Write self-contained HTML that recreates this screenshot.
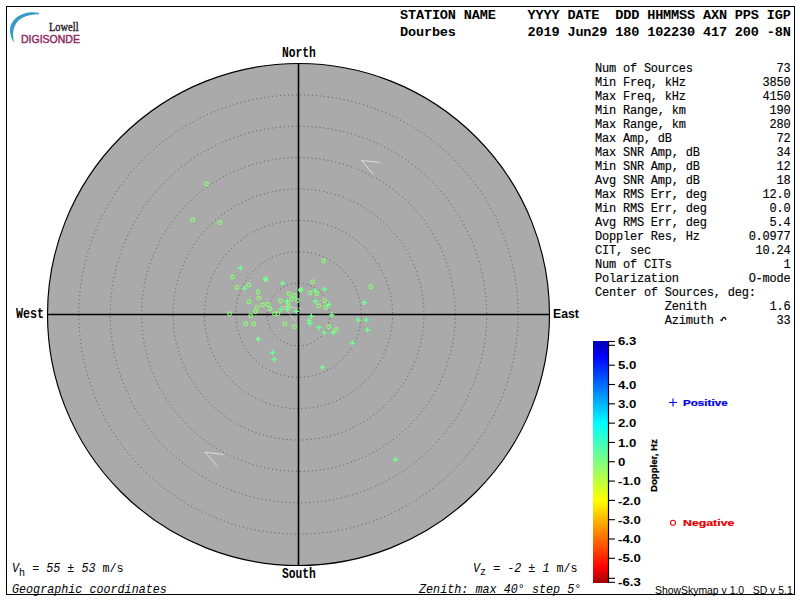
<!DOCTYPE html>
<html><head><meta charset="utf-8">
<style>
html,body{margin:0;padding:0;background:#fff;width:800px;height:600px;overflow:hidden}
#frame{position:absolute;left:6px;top:6px;width:787px;height:587px;border:1px solid #000}
.t{position:absolute;white-space:pre;font-family:"Liberation Mono",monospace;color:#000;transform-origin:0 0;line-height:1}
.sub{font-size:10px;position:relative;top:3px}
i{font-style:italic}
svg{position:absolute;left:0;top:0}
</style></head><body>
<div id="frame"></div>
<svg width="800" height="600" viewBox="0 0 800 600">
<defs>
<linearGradient id="cbg" x1="0" y1="0" x2="0" y2="1">
<stop offset="0" stop-color="#0000b0"/>
<stop offset="0.0635" stop-color="#0000ff"/>
<stop offset="0.341" stop-color="#00ffff"/>
<stop offset="0.5" stop-color="#80ff80"/>
<stop offset="0.659" stop-color="#ffff00"/>
<stop offset="0.937" stop-color="#ff0000"/>
<stop offset="1" stop-color="#a00000"/>
</linearGradient>
</defs>
<path d="M39 12.9 C24 10 8.5 18 10.2 33 C10.7 37 12.2 40 14.2 42.8 C13 38 12.8 34 13.6 29.5 C16 19 25.5 14.3 39 14.2Z" fill="#3a9ac8"/>
<circle cx="298.5" cy="314.5" r="251" fill="#aaaaaa" stroke="#000" stroke-width="1.15"/>
<circle cx="298.5" cy="314.5" r="31.38" fill="none" stroke="#555555" stroke-width="1" stroke-dasharray="1 3"/>
<circle cx="298.5" cy="314.5" r="62.75" fill="none" stroke="#555555" stroke-width="1" stroke-dasharray="1 3"/>
<circle cx="298.5" cy="314.5" r="94.12" fill="none" stroke="#555555" stroke-width="1" stroke-dasharray="1 3"/>
<circle cx="298.5" cy="314.5" r="125.50" fill="none" stroke="#555555" stroke-width="1" stroke-dasharray="1 3"/>
<circle cx="298.5" cy="314.5" r="156.88" fill="none" stroke="#555555" stroke-width="1" stroke-dasharray="1 3"/>
<circle cx="298.5" cy="314.5" r="188.25" fill="none" stroke="#555555" stroke-width="1" stroke-dasharray="1 3"/>
<circle cx="298.5" cy="314.5" r="219.62" fill="none" stroke="#555555" stroke-width="1" stroke-dasharray="1 3"/>
<line x1="47.5" y1="314.5" x2="549.5" y2="314.5" stroke="#000" stroke-width="1.6"/>
<line x1="298.5" y1="63.5" x2="298.5" y2="565.5" stroke="#000" stroke-width="1.6"/>
<polyline points="379.75,162.5 361.5,160.5 373.5,174.5" fill="none" stroke="#e8e8e8" stroke-width="1" opacity="0.8"/>
<polyline points="223.75,454.5 205.25,452.25 217.5,466.5" fill="none" stroke="#e8e8e8" stroke-width="1" opacity="0.8"/>
<polyline points="302,308.5 283.25,306.25 295.5,320.75" fill="none" stroke="#e8e8e8" stroke-width="1" opacity="0.55"/>
<g fill="none" stroke="#88ff70" stroke-width="1.15"><circle cx="232.5" cy="277" r="1.85"/><circle cx="248.75" cy="285" r="1.85"/><circle cx="323.75" cy="260.75" r="1.85"/><circle cx="312.5" cy="281.75" r="1.85"/><circle cx="310" cy="293" r="1.85"/><circle cx="317" cy="293.75" r="1.85"/><circle cx="370.75" cy="286.75" r="1.85"/><circle cx="258" cy="292" r="1.85"/><circle cx="258.75" cy="298" r="1.85"/><circle cx="248.75" cy="301.75" r="1.85"/><circle cx="288.75" cy="293.75" r="1.85"/><circle cx="294.5" cy="295.5" r="1.85"/><circle cx="291.75" cy="298.75" r="1.85"/><circle cx="297.5" cy="300.5" r="1.85"/><circle cx="280.5" cy="300.75" r="1.85"/><circle cx="325" cy="300.75" r="1.85"/><circle cx="318.75" cy="305.75" r="1.85"/><circle cx="325.75" cy="307.5" r="1.85"/><circle cx="262.5" cy="305" r="1.85"/><circle cx="267.5" cy="304.25" r="1.85"/><circle cx="256.75" cy="307.5" r="1.85"/><circle cx="255.5" cy="311.75" r="1.85"/><circle cx="270" cy="308.75" r="1.85"/><circle cx="229.5" cy="313.75" r="1.85"/><circle cx="250.75" cy="315.75" r="1.85"/><circle cx="274.5" cy="313.75" r="1.85"/><circle cx="278" cy="313.75" r="1.85"/><circle cx="285" cy="323.75" r="1.85"/><circle cx="294.5" cy="326.75" r="1.85"/><circle cx="245.75" cy="323.75" r="1.85"/><circle cx="253.75" cy="323.75" r="1.85"/><circle cx="328.75" cy="326.75" r="1.85"/><circle cx="336.25" cy="329.5" r="1.85"/><circle cx="206.6" cy="184" r="1.85"/><circle cx="192.7" cy="219.7" r="1.85"/><circle cx="219.7" cy="222.7" r="1.85"/><circle cx="237" cy="287.5" r="1.85"/><circle cx="288" cy="303.3" r="1.85"/><circle cx="288.5" cy="307.3" r="1.85"/><circle cx="265.5" cy="279.25" r="1.85"/><circle cx="300.75" cy="290" r="1.85"/></g>
<path fill="none" stroke="#70ff90" stroke-width="1.4" d="M237.80 268.25h5.4M240.50 265.55v5.4M241.80 288.25h5.4M244.50 285.55v5.4M279.80 283.25h5.4M282.50 280.55v5.4M321.80 289.25h5.4M324.50 286.55v5.4M312.80 290.75h5.4M315.50 288.05v5.4M312.80 301.25h5.4M315.50 298.55v5.4M326.05 304.50h5.4M328.75 301.80v5.4M361.55 302.50h5.4M364.25 299.80v5.4M278.55 309.25h5.4M281.25 306.55v5.4M293.55 311.25h5.4M296.25 308.55v5.4M308.55 316.25h5.4M311.25 313.55v5.4M329.05 315.00h5.4M331.75 312.30v5.4M316.05 327.50h5.4M318.75 324.80v5.4M321.55 332.50h5.4M324.25 329.80v5.4M330.55 332.50h5.4M333.25 329.80v5.4M355.55 320.00h5.4M358.25 317.30v5.4M363.55 320.00h5.4M366.25 317.30v5.4M364.80 330.00h5.4M367.50 327.30v5.4M349.80 343.00h5.4M352.50 340.30v5.4M255.55 339.25h5.4M258.25 336.55v5.4M269.80 352.50h5.4M272.50 349.80v5.4M271.55 359.50h5.4M274.25 356.80v5.4M319.80 367.50h5.4M322.50 364.80v5.4M392.80 459.50h5.4M395.50 456.80v5.4M284.80 301.30h5.4M287.50 298.60v5.4M284.80 309.50h5.4M287.50 306.80v5.4M306.30 320.50h5.4M309.00 317.80v5.4M307.30 323.50h5.4M310.00 320.80v5.4M262.80 279.25h5.4M265.50 276.55v5.4M298.05 290.00h5.4M300.75 287.30v5.4"/>
<rect x="593" y="341" width="15" height="242" fill="url(#cbg)"/>
<line x1="608.5" y1="341" x2="608.5" y2="583" stroke="#000" stroke-width="1.2"/>
<line x1="608" y1="341.50" x2="615" y2="341.50" stroke="#000" stroke-width="1.1"/>
<line x1="608" y1="345.30" x2="615" y2="345.30" stroke="#000" stroke-width="1.1"/>
<line x1="608" y1="365.20" x2="615" y2="365.20" stroke="#000" stroke-width="1.1"/>
<line x1="608" y1="384.51" x2="615" y2="384.51" stroke="#000" stroke-width="1.1"/>
<line x1="608" y1="403.82" x2="615" y2="403.82" stroke="#000" stroke-width="1.1"/>
<line x1="608" y1="423.13" x2="615" y2="423.13" stroke="#000" stroke-width="1.1"/>
<line x1="608" y1="442.44" x2="615" y2="442.44" stroke="#000" stroke-width="1.1"/>
<line x1="608" y1="461.75" x2="615" y2="461.75" stroke="#000" stroke-width="1.1"/>
<line x1="608" y1="481.06" x2="615" y2="481.06" stroke="#000" stroke-width="1.1"/>
<line x1="608" y1="500.37" x2="615" y2="500.37" stroke="#000" stroke-width="1.1"/>
<line x1="608" y1="519.68" x2="615" y2="519.68" stroke="#000" stroke-width="1.1"/>
<line x1="608" y1="538.99" x2="615" y2="538.99" stroke="#000" stroke-width="1.1"/>
<line x1="608" y1="558.30" x2="615" y2="558.30" stroke="#000" stroke-width="1.1"/>
<line x1="608" y1="578.30" x2="615" y2="578.30" stroke="#000" stroke-width="1.1"/>
<line x1="608" y1="582.30" x2="615" y2="582.30" stroke="#000" stroke-width="1.1"/>
<path d="M720.3 319.6L722.2 321.2M721.6 321Q722.6 317.4 724.4 317.4Q725.8 317.6 725.9 320" stroke="#000" stroke-width="1.1" fill="none"/>
<path d="M669 402.5h8M673 398.5v8" stroke="#0000e6" stroke-width="1.1" fill="none"/>
<circle cx="673" cy="522.8" r="2.5" stroke="#e60000" stroke-width="1.05" fill="none"/>
</svg>
<div id="hdr" class="t m" style="left:400.00px;top:7.00px;transform:scale(0.9969,1.0000);font-size:13.6px;letter-spacing:-0.16px;font-weight:bold;line-height:17px">STATION NAME    YYYY DATE  DDD HHMMSS AXN PPS IGP
Dourbes         2019 Jun29 180 102230 417 200 -8N</div>
<div id="stats" class="t m" style="left:594.90px;top:62.10px;transform:scale(0.9974,1.0000);font-size:12px;letter-spacing:-0.2px;line-height:14px;-webkit-text-stroke:0.15px #000">Num of Sources            73
Min Freq, kHz           3850
Max Freq, kHz           4150
Min Range, km            190
Max Range, km            280
Max Amp, dB               72
Max SNR Amp, dB           34
Min SNR Amp, dB           12
Avg SNR Amp, dB           18
Max RMS Err, deg        12.0
Min RMS Err, deg         0.0
Avg RMS Err, deg         5.4
Doppler Res, Hz       0.0977
CIT, sec               10.24
Num of CITs                1
Polarization          O-mode
Center of Sources, deg:
          Zenith         1.6
          Azimuth         33</div>
<div id="north" class="t m" style="left:282.00px;top:47.10px;transform:scale(0.9686,1.2000);font-size:11.67px;font-weight:bold">North</div>
<div id="south" class="t m" style="left:282.00px;top:568.00px;transform:scale(0.9686,1.2375);font-size:11.67px;font-weight:bold">South</div>
<div id="west" class="t m" style="left:16.00px;top:307.75px;transform:scale(1.0000,1.2500);font-size:11.67px;font-weight:bold">West</div>
<div id="east" class="t m" style="left:552.75px;top:306.77px;transform:scale(1.0500,1.1125);font-size:11.67px;font-weight:bold;font-family:'Liberation Sans',sans-serif">East</div>
<div id="vh" class="t m" style="left:11.64px;top:563.10px;transform:scale(1.0060,1.1636);font-size:11.67px"><i>V</i><span class="sub">h</span> = <i>55 ± 53</i> m/s</div>
<div id="geo" class="t m" style="left:11.75px;top:583.90px;transform:scale(1.0062,1.1600);font-size:11.67px;font-style:italic">Geographic coordinates</div>
<div id="vz" class="t m" style="left:473.39px;top:563.25px;transform:scale(1.0059,1.1136);font-size:11.67px"><i>V</i><span class="sub">z</span> = <i>-2 ± 1</i> m/s</div>
<div id="zen" class="t m" style="left:419.40px;top:584.25px;transform:scale(1.0088,1.1450);font-size:11.67px;font-style:italic">Zenith: max 40° step 5°</div>
<div id="ver" class="t m" style="left:654.60px;top:585.50px;transform:scale(1.0409,1.0000);font-size:10px;font-family:'Liberation Sans',sans-serif">ShowSkymap v 1.0   SD v 5.1</div>
<div id="pos" class="t m" style="left:682.80px;top:398.10px;transform:scale(1.1632,0.9875);font-size:10px;font-weight:bold;-webkit-text-stroke:0.25px #0000e6;color:#0000e6;font-family:'Liberation Sans',sans-serif">Positive</div>
<div id="neg" class="t m" style="left:682.70px;top:518.75px;transform:scale(1.2317,0.8750);font-size:10px;font-weight:bold;-webkit-text-stroke:0.25px #e60000;color:#e60000;font-family:'Liberation Sans',sans-serif">Negative</div>
<div id="lowell" class="t m" style="left:49.00px;top:21.60px;transform:scale(0.9933,1.1000);font-size:10.5px;-webkit-text-stroke:0.35px #2a2228;font-family:'Liberation Serif',serif;color:#2a2228">Lowell</div>
<div id="digi" class="t m" style="left:20.50px;top:33.85px;transform:scale(0.9540,1.0500);font-size:11px;-webkit-text-stroke:0.45px #8e2a5e;font-family:'Liberation Sans',sans-serif;color:#8e2a5e">DIGISONDE</div>
<div id="cb63" class="t m" style="left:618.00px;top:336.39px;transform:scale(1.2000,0.9625);font-size:11px;font-weight:bold;font-family:'Liberation Sans',sans-serif">6.3</div>
<div id="cb50" class="t m" style="left:618.00px;top:360.39px;transform:scale(1.2000,0.9625);font-size:11px;font-weight:bold;font-family:'Liberation Sans',sans-serif">5.0</div>
<div id="cb40" class="t m" style="left:618.00px;top:379.70px;transform:scale(1.2000,0.9625);font-size:11px;font-weight:bold;font-family:'Liberation Sans',sans-serif">4.0</div>
<div id="cb30" class="t m" style="left:618.00px;top:399.01px;transform:scale(1.2000,0.9625);font-size:11px;font-weight:bold;font-family:'Liberation Sans',sans-serif">3.0</div>
<div id="cb20" class="t m" style="left:618.00px;top:418.32px;transform:scale(1.2000,0.9625);font-size:11px;font-weight:bold;font-family:'Liberation Sans',sans-serif">2.0</div>
<div id="cb10" class="t m" style="left:618.00px;top:437.63px;transform:scale(1.2000,0.9625);font-size:11px;font-weight:bold;font-family:'Liberation Sans',sans-serif">1.0</div>
<div id="cb0" class="t m" style="left:618.00px;top:456.94px;transform:scale(1.2000,0.9625);font-size:11px;font-weight:bold;font-family:'Liberation Sans',sans-serif">0</div>
<div id="cbm10" class="t m" style="left:618.00px;top:476.25px;transform:scale(1.2000,0.9625);font-size:11px;font-weight:bold;font-family:'Liberation Sans',sans-serif">-1.0</div>
<div id="cbm20" class="t m" style="left:618.00px;top:495.56px;transform:scale(1.2000,0.9625);font-size:11px;font-weight:bold;font-family:'Liberation Sans',sans-serif">-2.0</div>
<div id="cbm30" class="t m" style="left:618.00px;top:514.87px;transform:scale(1.2000,0.9625);font-size:11px;font-weight:bold;font-family:'Liberation Sans',sans-serif">-3.0</div>
<div id="cbm40" class="t m" style="left:618.00px;top:534.18px;transform:scale(1.2000,0.9625);font-size:11px;font-weight:bold;font-family:'Liberation Sans',sans-serif">-4.0</div>
<div id="cbm50" class="t m" style="left:618.00px;top:553.49px;transform:scale(1.2000,0.9625);font-size:11px;font-weight:bold;font-family:'Liberation Sans',sans-serif">-5.0</div>
<div id="cbm63" class="t m" style="left:618.00px;top:577.19px;transform:scale(1.2000,0.9625);font-size:11px;font-weight:bold;font-family:'Liberation Sans',sans-serif">-6.3</div>
<div id="dop" class="t m" style="left:649.10px;top:491.60px;transform-origin:0 0;transform:rotate(-90deg) scale(0.9609,0.9600);font-size:10px;font-weight:bold;-webkit-text-stroke:0.3px #000;font-family:'Liberation Sans',sans-serif">Doppler, Hz</div>
</body></html>
